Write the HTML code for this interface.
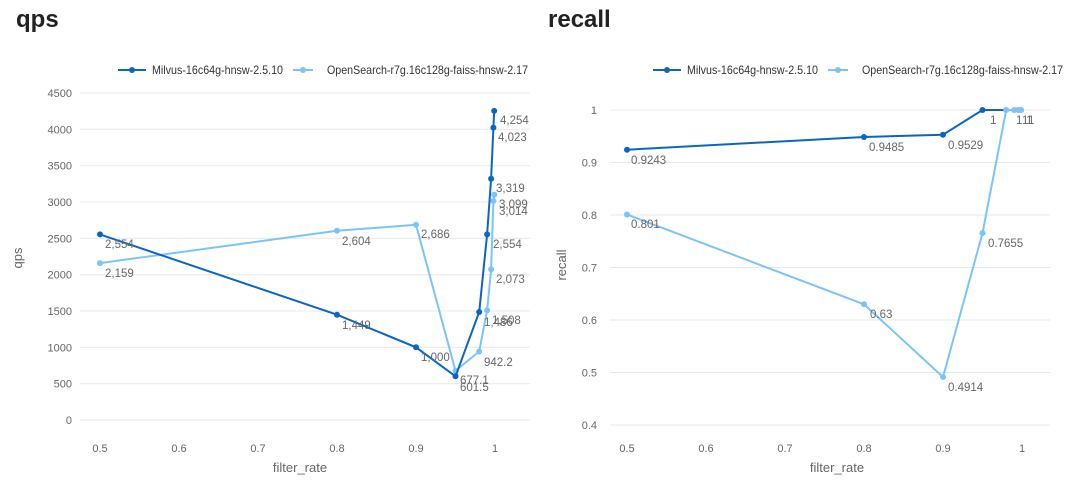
<!DOCTYPE html>
<html><head><style>
body{margin:0;background:#fff;}
svg{display:block;font-family:"Liberation Sans",sans-serif;}
.t{font-size:11px;fill:#666;}
.l{font-size:11.5px;fill:#666;}
.g{stroke:#e6e8ee;stroke-width:1;}
</style></head><body>
<svg width="1080" height="484" viewBox="0 0 1080 484">
<text x="16" y="27" font-size="24" font-weight="bold" fill="#222">qps</text>
<text x="548" y="27" font-size="24" font-weight="bold" fill="#222">recall</text>
<!-- legends -->
<g font-size="12" fill="#333">
<line x1="118" y1="70" x2="146" y2="70" stroke="#0b66c3" stroke-width="2"/><circle cx="132" cy="70" r="3" fill="#0b66c3"/>
<text x="152" y="74" textLength="131" lengthAdjust="spacingAndGlyphs">Milvus-16c64g-hnsw-2.5.10</text>
<line x1="293" y1="70" x2="313" y2="70" stroke="#7cc4f8" stroke-width="2"/><circle cx="303" cy="70" r="3" fill="#7cc4f8"/>
<text x="327" y="74" textLength="201" lengthAdjust="spacingAndGlyphs">OpenSearch-r7g.16c128g-faiss-hnsw-2.17</text>
<line x1="653" y1="70" x2="681" y2="70" stroke="#0b66c3" stroke-width="2"/><circle cx="667" cy="70" r="3" fill="#0b66c3"/>
<text x="687" y="74" textLength="131" lengthAdjust="spacingAndGlyphs">Milvus-16c64g-hnsw-2.5.10</text>
<line x1="828" y1="70" x2="848" y2="70" stroke="#7cc4f8" stroke-width="2"/><circle cx="838" cy="70" r="3" fill="#7cc4f8"/>
<text x="862" y="74" textLength="201" lengthAdjust="spacingAndGlyphs">OpenSearch-r7g.16c128g-faiss-hnsw-2.17</text>
</g>
<g class="g">
<line x1="80" y1="420" x2="530" y2="420"/><line x1="80" y1="383.7" x2="530" y2="383.7"/><line x1="80" y1="347.3" x2="530" y2="347.3"/><line x1="80" y1="311" x2="530" y2="311"/><line x1="80" y1="274.7" x2="530" y2="274.7"/><line x1="80" y1="238.3" x2="530" y2="238.3"/><line x1="80" y1="202" x2="530" y2="202"/><line x1="80" y1="165.7" x2="530" y2="165.7"/><line x1="80" y1="129.3" x2="530" y2="129.3"/><line x1="80" y1="93" x2="530" y2="93"/>
<line x1="610" y1="425" x2="1050" y2="425"/><line x1="610" y1="372.5" x2="1050" y2="372.5"/><line x1="610" y1="320" x2="1050" y2="320"/><line x1="610" y1="267.5" x2="1050" y2="267.5"/><line x1="610" y1="215" x2="1050" y2="215"/><line x1="610" y1="162.5" x2="1050" y2="162.5"/><line x1="610" y1="110" x2="1050" y2="110"/>
</g>
<g class="t" text-anchor="end">
<text x="72" y="424">0</text><text x="72" y="387.7">500</text><text x="72" y="351.3">1000</text><text x="72" y="315">1500</text><text x="72" y="278.7">2000</text><text x="72" y="242.3">2500</text><text x="72" y="206">3000</text><text x="72" y="169.7">3500</text><text x="72" y="133.3">4000</text><text x="72" y="97">4500</text>
<text x="597" y="429">0.4</text><text x="597" y="376.5">0.5</text><text x="597" y="324">0.6</text><text x="597" y="271.5">0.7</text><text x="597" y="219">0.8</text><text x="597" y="166.5">0.9</text><text x="597" y="114">1</text>
</g>
<g class="t" text-anchor="middle">
<text x="100" y="452">0.5</text><text x="179" y="452">0.6</text><text x="258" y="452">0.7</text><text x="337" y="452">0.8</text><text x="416" y="452">0.9</text><text x="495" y="452">1</text>
<text x="627" y="452">0.5</text><text x="706" y="452">0.6</text><text x="785" y="452">0.7</text><text x="864" y="452">0.8</text><text x="943" y="452">0.9</text><text x="1022" y="452">1</text>
</g>
<text x="300" y="472" font-size="13" fill="#666" text-anchor="middle">filter_rate</text>
<text x="837" y="472" font-size="13" fill="#666" text-anchor="middle">filter_rate</text>
<text transform="translate(22,258) rotate(-90)" font-size="13" fill="#666" text-anchor="middle">qps</text>
<text transform="translate(566,265) rotate(-90)" font-size="13" fill="#666" text-anchor="middle">recall</text>
<polyline fill="none" stroke="#7cc4f8" stroke-width="2" points="100,263.1 337,230.8 416,224.8 455.5,370.8 479.2,351.5 487.1,310.4 491.1,269.4 493.4,201 494.2,194.8"/>
<g fill="#7cc4f8"><circle cx="100" cy="263.1" r="3"/><circle cx="337" cy="230.8" r="3"/><circle cx="416" cy="224.8" r="3"/><circle cx="455.5" cy="370.8" r="3"/><circle cx="479.2" cy="351.5" r="3"/><circle cx="487.1" cy="310.4" r="3"/><circle cx="491.1" cy="269.4" r="3"/><circle cx="493.4" cy="201" r="3"/><circle cx="494.2" cy="194.8" r="3"/></g>
<polyline fill="none" stroke="#0b66c3" stroke-width="2" points="100,234.4 337,314.7 416,347.3 455.5,376.3 479.2,312 487.1,234.4 491.1,178.8 493.4,127.6 494.2,110.9"/>
<g fill="#0b66c3"><circle cx="100" cy="234.4" r="3"/><circle cx="337" cy="314.7" r="3"/><circle cx="416" cy="347.3" r="3"/><circle cx="455.5" cy="376.3" r="3"/><circle cx="479.2" cy="312" r="3"/><circle cx="487.1" cy="234.4" r="3"/><circle cx="491.1" cy="178.8" r="3"/><circle cx="493.4" cy="127.6" r="3"/><circle cx="494.2" cy="110.9" r="3"/></g>
<g class="l">
<text x="105" y="248">2,554</text><text x="342" y="329">1,449</text><text x="421" y="361">1,000</text><text x="460" y="391">601.5</text><text x="484" y="326">1,486</text><text x="493" y="248">2,554</text><text x="496" y="192">3,319</text><text x="498" y="141">4,023</text><text x="500" y="124">4,254</text>
<text x="105" y="277">2,159</text><text x="342" y="245">2,604</text><text x="421" y="238">2,686</text><text x="460" y="384">677.1</text><text x="484" y="366">942.2</text><text x="492" y="324">1,508</text><text x="496" y="283">2,073</text><text x="499" y="215">3,014</text><text x="499" y="208">3,099</text>
</g>
<polyline fill="none" stroke="#0b66c3" stroke-width="2" points="627,149.7 864,137 943,134.7 982.5,110 1006.2,110 1014.1,110 1018.1,110 1020.4,110 1021.2,110"/>
<polyline fill="none" stroke="#7cc4f8" stroke-width="2" points="627,214.5 864,304.3 943,377 982.5,233.1 1006.2,110 1014.1,110 1018.1,110 1020.4,110 1021.2,110"/>
<g fill="#0b66c3"><circle cx="627" cy="149.7" r="3"/><circle cx="864" cy="137" r="3"/><circle cx="943" cy="134.7" r="3"/><circle cx="982.5" cy="110" r="3"/></g>
<g fill="#7cc4f8"><circle cx="627" cy="214.5" r="3"/><circle cx="864" cy="304.3" r="3"/><circle cx="943" cy="377" r="3"/><circle cx="982.5" cy="233.1" r="3"/><circle cx="1006.2" cy="110" r="3"/><circle cx="1014.1" cy="110" r="3"/><circle cx="1018.1" cy="110" r="3"/><circle cx="1020.4" cy="110" r="3"/><circle cx="1021.2" cy="110" r="3"/></g>
<g class="l">
<text x="631" y="164">0.9243</text><text x="869" y="151">0.9485</text><text x="948" y="149">0.9529</text><text x="990" y="124">1</text>
<text x="631" y="228">0.801</text><text x="870" y="318">0.63</text><text x="948" y="391">0.4914</text><text x="988" y="247">0.7655</text>
<text x="1016" y="124">1</text><text x="1022" y="124">1</text><text x="1026" y="124">1</text><text x="1028" y="124">1</text>
</g>
</svg>
</body></html>
